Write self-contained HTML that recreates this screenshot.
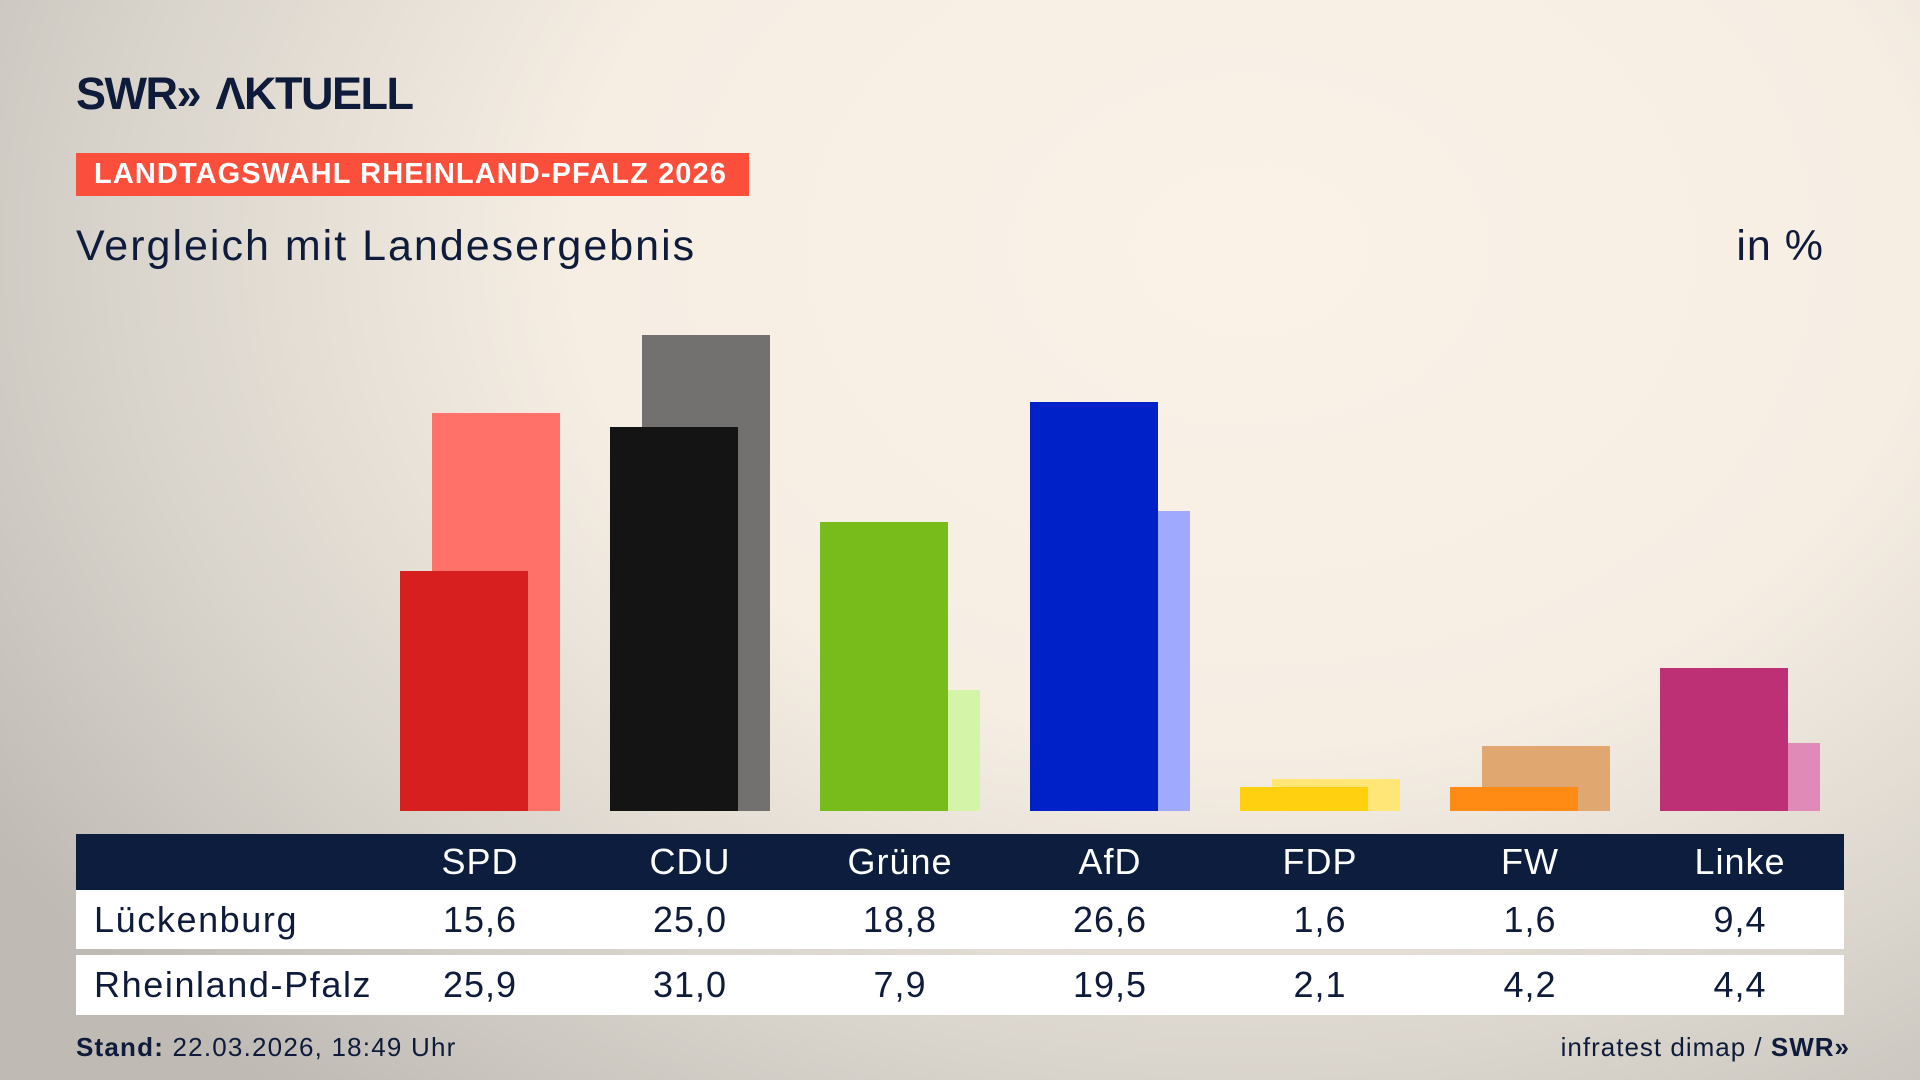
<!DOCTYPE html>
<html><head><meta charset="utf-8"><style>
*{margin:0;padding:0;box-sizing:border-box}
body{width:1920px;height:1080px;overflow:hidden;font-family:"Liberation Sans",sans-serif;color:#0e1b3a;
background:radial-gradient(ellipse 1500px 1100px at 1250px 250px,#faf2e7 0%,#f6eee3 45%,#d9d4cc 75%,#bfbab4 100%);position:relative}
.a{position:absolute}
.bar{position:absolute}
.hd{position:absolute;top:834px;left:76px;width:1768px;height:56px;background:#0c1d3e}
.row{position:absolute;left:76px;width:1768px;background:#fff}
.c{position:absolute;width:210px;text-align:center;font-size:36px;letter-spacing:1px}
</style></head><body>
<div class="a" style="left:76px;top:68px;font-size:45px;font-weight:bold;letter-spacing:-1.5px;color:#0e1b3a">SWR<span style="letter-spacing:-8px">»</span> &nbsp;ΛKTUELL</div>
<div class="a" style="left:76px;top:153px;width:673px;height:43px;background:#fb4f3c;color:#fff;font-weight:bold;font-size:29px;line-height:43px;padding-left:18px;letter-spacing:1.1px">LANDTAGSWAHL RHEINLAND-PFALZ 2026</div>
<div class="a" style="left:76px;top:222px;font-size:43px;color:#0e1b3a;letter-spacing:2px">Vergleich mit Landesergebnis</div>
<div class="a" style="right:96px;top:222px;font-size:43px;color:#0e1b3a;letter-spacing:1px">in %</div>

<div class="bar" style="left:432px;top:413px;width:128px;height:398px;background:#ff7169"></div>
<div class="bar" style="left:642px;top:335px;width:128px;height:476px;background:#737170"></div>
<div class="bar" style="left:852px;top:690px;width:128px;height:121px;background:#d4f5a8"></div>
<div class="bar" style="left:1062px;top:511px;width:128px;height:300px;background:#9faaff"></div>
<div class="bar" style="left:1272px;top:779px;width:128px;height:32px;background:#ffe677"></div>
<div class="bar" style="left:1482px;top:746px;width:128px;height:65px;background:#e0a870"></div>
<div class="bar" style="left:1692px;top:743px;width:128px;height:68px;background:#e08ab8"></div>
<div class="bar" style="left:400px;top:571px;width:128px;height:240px;background:#d81f1f"></div>
<div class="bar" style="left:610px;top:427px;width:128px;height:384px;background:#141414"></div>
<div class="bar" style="left:820px;top:522px;width:128px;height:289px;background:#78bc1c"></div>
<div class="bar" style="left:1030px;top:402px;width:128px;height:409px;background:#0021c8"></div>
<div class="bar" style="left:1240px;top:787px;width:128px;height:24px;background:#ffd00f"></div>
<div class="bar" style="left:1450px;top:787px;width:128px;height:24px;background:#ff8a14"></div>
<div class="bar" style="left:1660px;top:668px;width:128px;height:143px;background:#bd3075"></div>

<div class="hd"></div>
<div class="row" style="top:890px;height:59px"></div>
<div class="row" style="top:955px;height:60px"></div>

<div style="color:#fff">
<div class="c" style="left:375px;top:841px">SPD</div>
<div class="c" style="left:585px;top:841px">CDU</div>
<div class="c" style="left:795px;top:841px">Grüne</div>
<div class="c" style="left:1005px;top:841px">AfD</div>
<div class="c" style="left:1215px;top:841px">FDP</div>
<div class="c" style="left:1425px;top:841px">FW</div>
<div class="c" style="left:1635px;top:841px">Linke</div>
</div>
<div class="a" style="left:94px;top:899px;font-size:36px;letter-spacing:1.6px">Lückenburg</div>
<div class="c" style="left:375px;top:899px">15,6</div>
<div class="c" style="left:585px;top:899px">25,0</div>
<div class="c" style="left:795px;top:899px">18,8</div>
<div class="c" style="left:1005px;top:899px">26,6</div>
<div class="c" style="left:1215px;top:899px">1,6</div>
<div class="c" style="left:1425px;top:899px">1,6</div>
<div class="c" style="left:1635px;top:899px">9,4</div>
<div class="a" style="left:94px;top:964px;font-size:36px;letter-spacing:1.6px">Rheinland-Pfalz</div>
<div class="c" style="left:375px;top:964px">25,9</div>
<div class="c" style="left:585px;top:964px">31,0</div>
<div class="c" style="left:795px;top:964px">7,9</div>
<div class="c" style="left:1005px;top:964px">19,5</div>
<div class="c" style="left:1215px;top:964px">2,1</div>
<div class="c" style="left:1425px;top:964px">4,2</div>
<div class="c" style="left:1635px;top:964px">4,4</div>

<div class="a" style="left:76px;top:1032px;font-size:26px;letter-spacing:1.2px"><b>Stand:</b> 22.03.2026, 18:49 Uhr</div>
<div class="a" style="right:76px;top:1032px;font-size:26px;letter-spacing:1px">infratest dimap / <b>SWR<span style="letter-spacing:-5px">»</span></b></div>
</body></html>
